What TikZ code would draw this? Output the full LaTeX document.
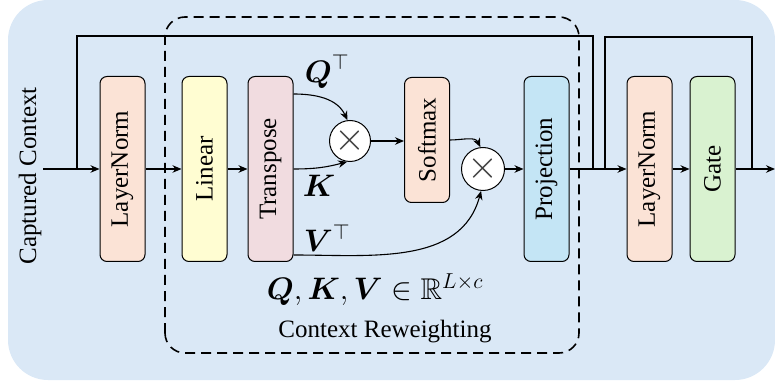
\documentclass[tikz,border=0pt]{standalone}
\usepackage{fontspec}
\setmainfont{Liberation Serif}
\usepackage{amsmath,amssymb}
\usepackage{graphicx}
\usepackage{tikz}
\usetikzlibrary{arrows.meta,positioning,calc}
\definecolor{bgblue}{RGB}{218,232,246}
\definecolor{normpeach}{RGB}{251,227,214}
\definecolor{linyellow}{RGB}{255,253,210}
\definecolor{trpink}{RGB}{241,220,224}
\definecolor{projblue}{RGB}{196,229,245}
\definecolor{gategreen}{RGB}{217,242,208}
\tikzset{
	blk/.style = {draw=black, rounded corners=7pt, inner sep=0pt,
		minimum width=45pt, minimum height=185pt, line width=1pt},% bloc vertical
	blk_norm/.style = {blk, fill=normpeach},% LayerNorm, Softmax
	blk_lin/.style = {blk, fill=linyellow},
	blk_tr/.style = {blk, fill=trpink},
	blk_proj/.style = {blk, fill=projblue},
	blk_gate/.style = {blk, fill=gategreen},
	mult/.style = {circle, draw=black, fill=white, minimum size=41pt,
		inner sep=0pt, line width=1pt, text=black!75},% produit
	mlab/.style = {font=\fontsize{24}{28}\selectfont, scale=1.25, transform shape}% etiquettes maths
}
\newcommand{\vtxt}[1]{\rotatebox{90}{#1}}
\newcommand{\bigx}{\scalebox{1.6}{$\times$}}

\begin{document}
\begin{tikzpicture}[x=1pt,y=1pt,->,>={Stealth[length=9pt,width=7.5pt]},line width=1.1pt,
	font=\fontsize{25}{29}\selectfont]
\useasboundingbox (0,0) rectangle (775,388);
\fill[bgblue, rounded corners=40pt] (8,8) rectangle (775,388);
\draw[-, dash pattern=on 10pt off 6pt, line width=1.6pt, rounded corners=20pt]
	(165,35) rectangle (579,371);

\node (ctx) at (30,212) {\vtxt{Captured Context}};
\node [blk_norm] (ln1) at (122.5,219) {\vtxt{LayerNorm}};
\node [blk_lin] (lin) at (204.5,219) {\vtxt{Linear}};
\node [blk_tr] (tr) at (270.5,219) {\vtxt{Transpose}};
\node [mult] (mul1) at (350,247) {\bigx};
\node [blk_norm, minimum height=125pt] (sm) at (427,248) {\vtxt{Softmax}};
\node [mult, minimum size=43pt] (mul2) at (483,219) {\bigx};
\node [blk_proj] (proj) at (546.5,219) {\vtxt{Projection}};
\node [blk_norm] (ln2) at (649.5,219) {\vtxt{LayerNorm}};
\node [blk_gate] (gate) at (712.5,219) {\vtxt{Gate}};

\node [mlab] (qlab) at (327,316) {$\boldsymbol{Q}^{\top}$};
\node [mlab] (klab) at (319,202) {$\boldsymbol{K}$};
\node [mlab] (vlab) at (327,150) {$\boldsymbol{V}^{\top}$};
\node [mlab] (dims) at (375,98) {$\boldsymbol{Q},\boldsymbol{K},\boldsymbol{V}\in\mathbb{R}^{L\times c}$};
\node (cr) at (385,56) {Context Reweighting};

\coordinate (in) at (43,219);
\coordinate (j1) at (77,219);
\coordinate (j2) at (593,219);
\coordinate (j3) at (605,219);
\coordinate (j4) at (752,219);
\coordinate (out) at (775,219);
\coordinate (qo) at ([yshift=-18pt]tr.north east);
\coordinate (vo) at ([yshift=7pt]tr.south east);

\draw (in) -- (ln1);
\draw (ln1) -- (lin);
\draw (lin) -- (tr);
\draw (qo) to[out=0,in=115] (mul1.97);
\draw (tr.east) to[out=0,in=195] (mul1.262);
\draw (mul1) -- (sm.west |- mul1);
\draw (sm.east |- 0,248) to[out=0,in=115] (mul2.97);
\draw (vo) to[out=0,in=255] (mul2.265);
\draw (mul2) -- (proj);
\draw (proj) -- (ln2);
\draw (ln2) -- (gate);
\draw (gate) -- (out);
\draw[-] (j1) -- ++(0,133) -| (j2);
\draw[-] (j3) -- ++(0,132) -| (j4);
\end{tikzpicture}
\end{document}
